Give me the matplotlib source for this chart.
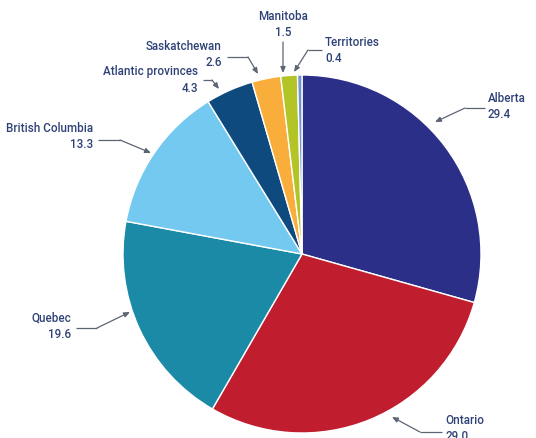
import matplotlib
matplotlib.use("Agg")
import matplotlib.pyplot as plt
from matplotlib import font_manager

# Share of total, by region (per cent)
regions = ["Alberta", "Ontario", "Quebec", "British Columbia",
           "Atlantic provinces", "Saskatchewan", "Manitoba", "Territories"]
shares = [29.4, 29.0, 19.6, 13.3, 4.3, 2.6, 1.5, 0.4]
colors = ["#2b2f88", "#c01d2e", "#1a8aa6", "#74c9f1",
          "#0e4a7e", "#f9ae3b", "#b3c426", "#6f93d3"]

W, H = 536, 438


def Y(y):
    """Convert a top-down pixel row to axes y (bottom-up)."""
    return H - y


font = font_manager.FontProperties(family=["Roboto", "DejaVu Sans"],
                                   weight="medium")
label_size = 8.4

fig = plt.figure(figsize=(W / 100, H / 100), dpi=100)
ax = fig.add_axes([0, 0, 1, 1])

ax.pie(shares, colors=colors, startangle=90, counterclock=False,
       center=(302, Y(254)), radius=179,
       wedgeprops=dict(edgecolor="white", linewidth=1.0))
ax.set_xlim(0, W)
ax.set_ylim(0, H)
ax.set_aspect("equal")
ax.axis("off")

text_color = "#2f4277"
arrow_color = "#5d6474"

# label layout: text anchor, alignment, elbow point, arrow tip (pixel rows top-down)
layout = {
    "Alberta":            dict(txt=(488, 106), ha="left",   elbow=(465, 108), tip=(435, 122)),
    "Ontario":            dict(txt=(445, 429), ha="left",   elbow=(420, 432), tip=(392, 417)),
    "Quebec":             dict(txt=(71, 326),  ha="right",  elbow=(97, 328),  tip=(130, 312)),
    "British Columbia":   dict(txt=(93, 137),  ha="right",  elbow=(120, 140), tip=(151, 153)),
    "Atlantic provinces": dict(txt=(198, 80),  ha="right",  elbow=(212, 80),  tip=(219, 89)),
    "Saskatchewan":       dict(txt=(222, 55),  ha="right",  elbow=(248, 57),  tip=(258, 74)),
    "Manitoba":           dict(txt=(283, 24),  ha="center", elbow=(283, 42),  tip=(283, 73)),
    "Territories":        dict(txt=(325, 50),  ha="left",   elbow=(308, 50),  tip=(294, 72)),
}

for name, val in zip(regions, shares):
    lay = layout[name]
    tx, ty = lay["txt"]
    ax.text(tx, Y(ty), f"{name}\n{val:.1f}", ha=lay["ha"], va="center",
            fontproperties=font, fontsize=label_size, color=text_color,
            linespacing=1.3, multialignment=lay["ha"])
    ex, ey = lay["elbow"]
    px, py = lay["tip"]
    if name != "Manitoba":
        sx = tx - 3 if lay["ha"] == "left" else tx + 5
        ax.plot([sx, ex], [Y(ey), Y(ey)], color=arrow_color, lw=0.9,
                solid_capstyle="butt")
    ax.annotate("", xy=(px, Y(py)), xytext=(ex, Y(ey)),
                arrowprops=dict(arrowstyle="-|>,head_length=0.35,head_width=0.15",
                                color=arrow_color, lw=0.9,
                                shrinkA=0, shrinkB=0))

fig.savefig("out.png", dpi=100, facecolor="white")
